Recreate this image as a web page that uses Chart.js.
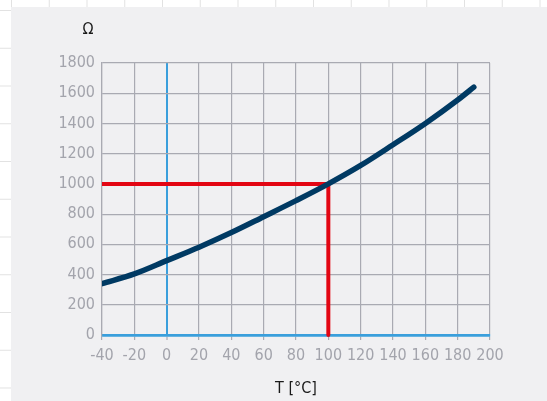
<!DOCTYPE html>
<html>
<head>
<meta charset="utf-8">
<script src="https://cdn.jsdelivr.net/npm/chart.js@4/dist/chart.umd.min.js"></script>
<style>
html,body{margin:0;padding:0;width:547px;height:401px;overflow:hidden;}
body{
  background-color:#ffffff;
  background-image:linear-gradient(to right,#e2e2e2 1px,transparent 1px),linear-gradient(to bottom,#e2e2e2 1px,transparent 1px);
  background-size:37.75px 37.75px;
  background-position:11px 10px;
}
#panel{position:absolute;left:11px;top:7px;right:0;bottom:0;background:#f0f0f2;}
#c{position:absolute;left:0;top:0;}
</style>
</head>
<body>
<div id="panel"></div>
<canvas id="c" width="547" height="401"></canvas>
<script>
// Data
const temperatures = [-40, -20, 0, 20, 40, 60, 80, 100, 120, 140, 160, 180, 190];
const resistance   = [340, 404, 492, 581, 678, 783, 889, 1000, 1122, 1259, 1400, 1555, 1640];
const refTemp = 100;
const refRes = 1000;
const xTicks = [-40, -20, 0, 20, 40, 60, 80, 100, 120, 140, 160, 180, 200];
const yTicks = [0, 200, 400, 600, 800, 1000, 1200, 1400, 1600, 1800];
const yTitle = 'Ω';
const xTitle = 'T [°C]';

const FONT = '"Liberation Sans Narrow", "DejaVu Sans Condensed", sans-serif';
const FS = 16;
const GRID = '#a9aab2';
const BLUE = '#3a9fdc';
const TICKC = '#a3a4ac';

const curve = temperatures.map((t, i) => ({x: t, y: resistance[i]}));
const hLine = [{x: xTicks[0], y: refRes}, {x: refTemp, y: refRes}];
const vLine = [{x: refTemp, y: yTicks[0]}, {x: refTemp, y: refRes}];

const yTitlePlugin = {
  id: 'yTitle',
  afterDraw(chart) {
    const {ctx, chartArea} = chart;
    ctx.save();
    ctx.font = FS + 'px ' + FONT;
    ctx.fillStyle = '#1a1a1a';
    ctx.textAlign = 'center';
    ctx.textBaseline = 'middle';
    ctx.fillText(yTitle, chartArea.left - 14, chartArea.top - 33);
    ctx.restore();
  }
};

new Chart(document.getElementById('c'), {
  type: 'line',
  data: {
    datasets: [
      {data: curve, borderColor: '#003a63', borderWidth: 5.5, borderCapStyle: 'round', pointRadius: 0, cubicInterpolationMode: 'monotone', fill: false},
      {data: hLine, borderColor: '#e30613', borderWidth: 4, borderCapStyle: 'butt', pointRadius: 0, fill: false, clip: false},
      {data: vLine, borderColor: '#e30613', borderWidth: 4, borderCapStyle: 'round', pointRadius: 0, fill: false, clip: false}
    ]
  },
  options: {
    responsive: false,
    animation: false,
    devicePixelRatio: 1,
    layout: {padding: {top: 63, right: 57, left: 0, bottom: 0}},
    plugins: {legend: {display: false}, tooltip: {enabled: false}},
    scales: {
      x: {
        type: 'linear',
        min: -40, max: 200,
        afterBuildTicks(s) { s.ticks = xTicks.map(v => ({value: v})); },
        afterFit(s) { s.height = 66; },
        grid: {
          color: c => (c.tick && c.tick.value === 0) ? BLUE : GRID,
          lineWidth: c => (c.tick && c.tick.value === 0) ? 2 : 1.2,
          drawTicks: true, tickLength: 5, tickColor: GRID, tickWidth: 1.2
        },
        border: {display: true, color: BLUE, width: 2.5},
        ticks: {color: TICKC, font: {family: FONT, size: FS}, padding: 6, maxRotation: 0, autoSkip: false,
                callback: v => String(v)},
        title: {display: true, text: xTitle, color: '#1a1a1a', font: {family: FONT, size: FS}, padding: {top: 0, bottom: 3}}
      },
      y: {
        type: 'linear',
        min: 0, max: 1800,
        afterBuildTicks(s) { s.ticks = yTicks.map(v => ({value: v})); },
        afterFit(s) { s.width = 102; },
        grid: {
          color: c => (c.tick && c.tick.value === 0) ? BLUE : GRID,
          lineWidth: c => (c.tick && c.tick.value === 0) ? 2.5 : 1.2,
          drawTicks: false
        },
        border: {display: true, color: GRID, width: 1.2},
        ticks: {color: TICKC, font: {family: FONT, size: FS}, padding: 7, autoSkip: false,
                callback: v => String(v)}
      }
    }
  },
  plugins: [yTitlePlugin]
});
</script>
</body>
</html>
